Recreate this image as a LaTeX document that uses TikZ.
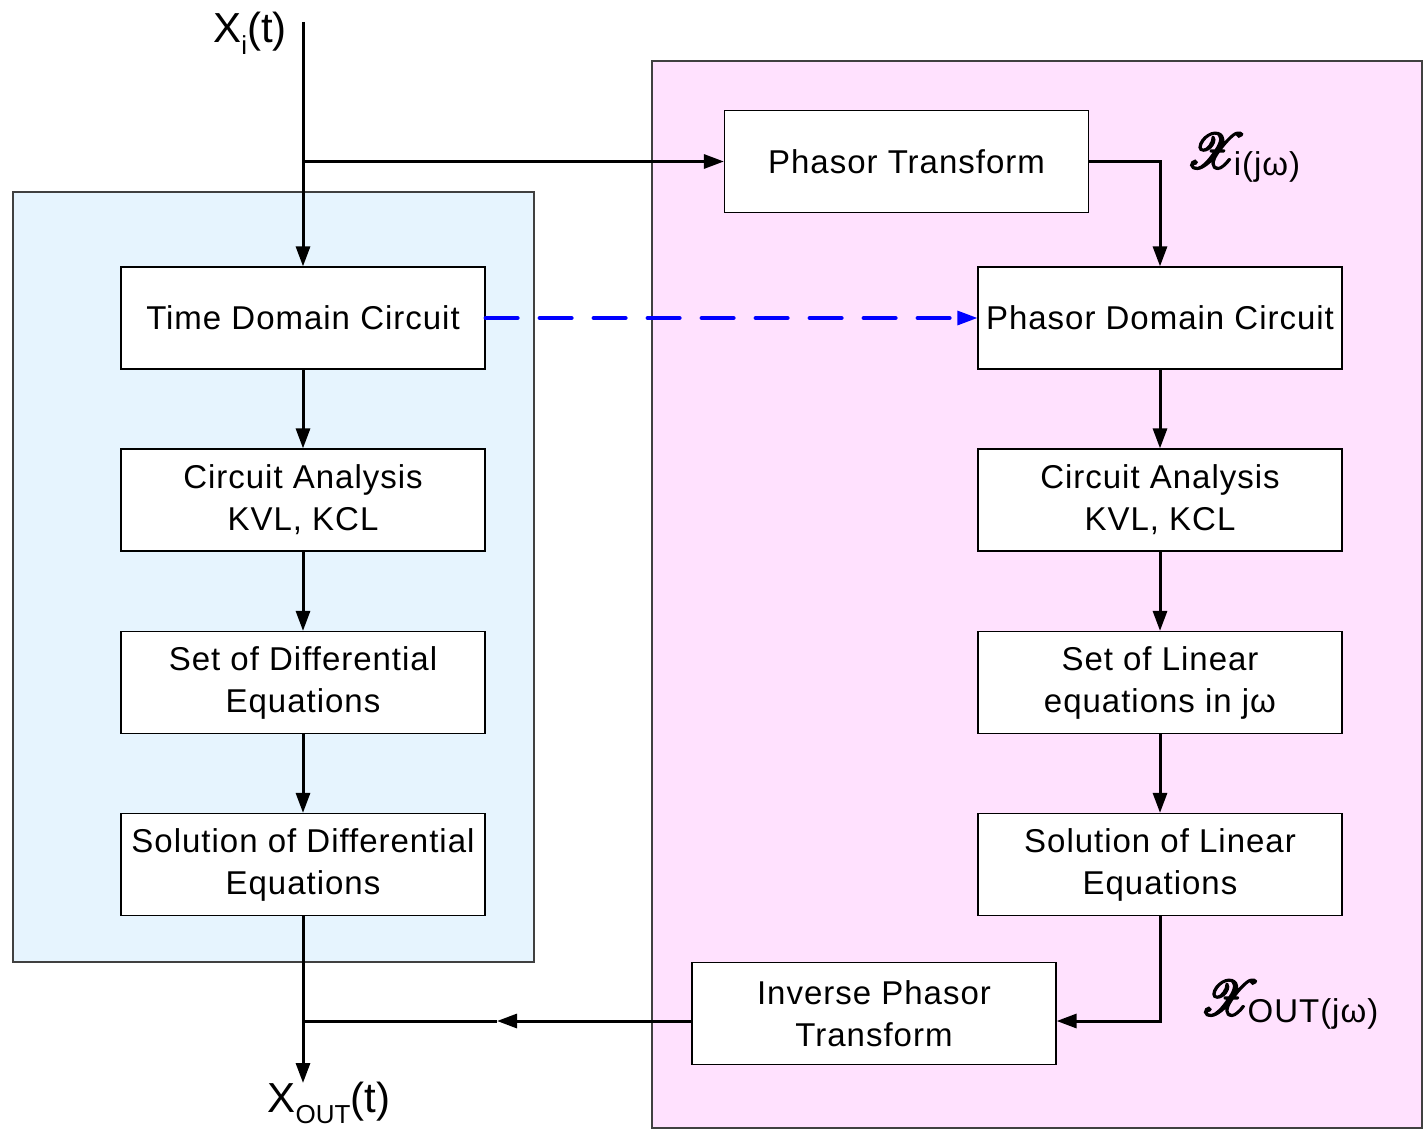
\documentclass[tikz,border=0pt]{standalone}
\usepackage{fontspec}
\setmainfont{Liberation Sans}
\newfontfamily\boxfont[LetterSpace=3]{Liberation Sans}
\usepackage{mathrsfs}
\usetikzlibrary{arrows.meta,calc}
\definecolor{bluebg}{HTML}{E6F4FE}
\definecolor{pinkbg}{HTML}{FFE1FE}
\newcommand\mysub[1]{\raisebox{-0.28em}{\fontsize{13}{13}\selectfont #1}}
\newcommand\mysubb[1]{\raisebox{-0.18em}{\boxfont\fontsize{16.5}{16.5}\selectfont #1}}
\newcommand\scrX{{\fontsize{30}{32}\selectfont\special{pdf:literal direct 2 Tr 1 w}$\mathscr{X}$\special{pdf:literal direct 0 Tr 0.4 w}}\kern-6pt}
\begin{document}
\begin{tikzpicture}[x=0.5pt,y=-0.5pt,
  region/.style={draw=black!75, line width=0.8pt},
  box/.style={draw=black, line width=0.6pt, fill=white, minimum width=182pt, minimum height=51pt,
    align=center, font=\boxfont\fontsize{16.5}{21}\selectfont, inner sep=0pt},
  flow/.style={line width=1.5pt, -{Triangle[length=10pt,width=7pt]}},
  plain/.style={line width=1.5pt},
  lbl/.style={inner sep=0pt, font=\fontsize{21}{24}\selectfont}]
\useasboundingbox (0,0) rectangle (1423,1129);
\fill[white] (0,0) rectangle (1423,1129);
% regions
\draw[region, fill=bluebg] (13,192) rectangle (534,962);
\draw[region, fill=pinkbg] (652,61) rectangle (1422,1128);
% left column
\node[box] (tdc) at (303,318) {Time Domain Circuit};
\node[box] (lca) at (303,500) {Circuit Analysis\\KVL, KCL};
\node[box] (lset) at (303,682.5) {Set of Differential\\Equations};
\node[box] (lsol) at (303,864.5) {Solution of Differential\\Equations};
% right column
\node[box] (pt) at (906.5,161.5) {Phasor Transform};
\node[box] (pdc) at (1160,318) {Phasor Domain Circuit};
\node[box] (rca) at (1160,500) {Circuit Analysis\\KVL, KCL};
\node[box] (rset) at (1160,682.5) {Set of Linear\\equations in jω};
\node[box] (rsol) at (1160,864.5) {Solution of Linear\\Equations};
\node[box] (inv) at (874,1013.5) {Inverse Phasor\\Transform};
% labels
\node[lbl] (xin) at (250,33) {X\mysub{i}(t)};
\node[lbl] (xout) at (329,1103) {X\mysub{OUT}(t)};
\node[lbl] (xjw) at (1243,158) {\scrX\mysubb{i(jω)}};
\node[lbl] (xoutjw) at (1289,1005) {\scrX\mysubb{OUT(jω)}};
% connectors
\coordinate (top) at (303,22);
\coordinate (br) at (303,161.5);
\coordinate (outtip) at (303,1083);
\coordinate (mid) at (497,1021);
\coordinate (join) at (303,1021);
\draw[flow] (top) -- (tdc.north);
\draw[flow] (br) -- (pt.west);
\draw[flow] (pt.east) -| (pdc.north);
\draw[line width=2pt, blue, line cap=round, dash pattern=on 16pt off 11pt] (tdc.east) -- ($(pdc.west)+(-12,0)$);
\draw[flow, blue] ($(pdc.west)+(-14,0)$) -- (pdc.west);
\draw[flow] (tdc) -- (lca);
\draw[flow] (lca) -- (lset);
\draw[flow] (lset) -- (lsol);
\draw[flow] (lsol.south) -- (outtip);
\draw[flow] (pdc) -- (rca);
\draw[flow] (rca) -- (rset);
\draw[flow] (rset) -- (rsol);
\draw[flow] (rsol.south) |- ($(inv.east)+(0,7.5)$);
\draw[flow] ($(inv.west)+(0,7.5)$) -- (mid);
\draw[plain] (mid) -- (join);
\end{tikzpicture}
\end{document}
